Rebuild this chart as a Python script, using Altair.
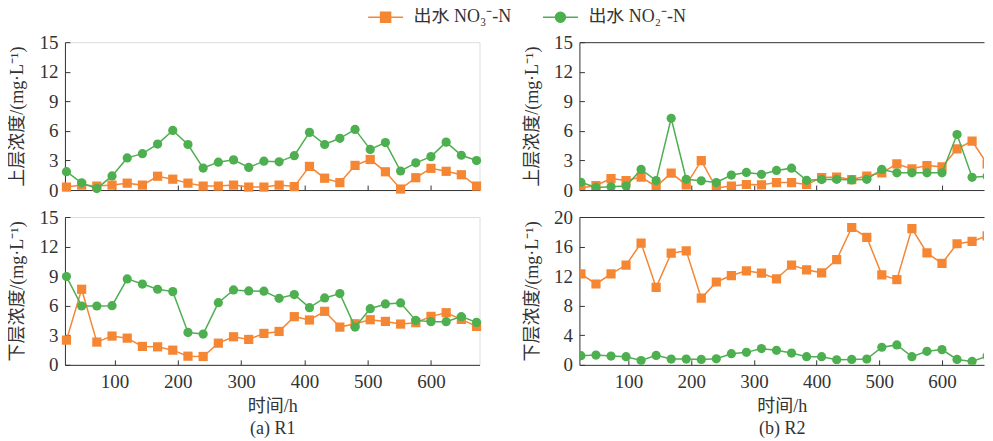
import altair as alt
import pandas as pd

hours = [24 * k for k in range(1, 29)]

# R1 upper layer
r1_up_no3 = [0.3, 0.5, 0.4, 0.5, 0.7, 0.5, 1.4, 1.1, 0.7, 0.4, 0.4, 0.5, 0.3, 0.3,
             0.5, 0.35, 2.4, 1.2, 0.75, 2.5, 3.1, 1.85, 0.1, 1.25, 2.2, 1.9, 1.55, 0.4]
r1_up_no2 = [1.86, 0.73, 0.15, 1.43, 3.26, 3.69, 4.66, 6.05, 4.62, 2.23, 2.83, 3.06, 2.29, 2.93,
             2.86, 3.49, 5.85, 4.62, 5.25, 6.15, 4.12, 4.82, 1.93, 2.76, 3.39, 4.86, 3.53, 2.99]
# R1 lower layer
r1_dn_no3 = [2.51, 7.67, 2.31, 2.92, 2.71, 1.87, 1.83, 1.49, 0.88, 0.85, 2.2, 2.85, 2.58, 3.19,
             3.39, 4.89, 4.55, 5.43, 3.83, 4.17, 4.58, 4.41, 4.14, 4.28, 4.92, 5.29, 4.61, 3.9]
r1_dn_no2 = [8.96, 5.97, 5.97, 6.0, 8.72, 8.2, 7.67, 7.43, 3.29, 3.12, 6.31, 7.6, 7.5, 7.47,
             6.75, 7.13, 5.8, 6.79, 7.23, 3.83, 5.7, 6.18, 6.28, 4.51, 4.38, 4.38, 4.89, 4.31]
# R2 upper layer
r2_up_no3 = [0.2, 0.46, 1.16, 0.96, 1.32, 0.36, 1.72, 0.53, 2.98, 0.2, 0.4, 0.56, 0.53, 0.76,
             0.76, 0.56, 1.26, 1.32, 1.06, 1.42, 1.75, 2.65, 2.15, 2.48, 2.35, 4.17, 4.97, 2.65]
r2_up_no2 = [0.79, 0.26, 0.33, 0.4, 2.09, 0.96, 7.28, 1.09, 0.93, 0.76, 1.52, 1.79, 1.59, 1.99,
             2.22, 0.99, 1.06, 1.09, 1.03, 1.09, 2.09, 1.75, 1.75, 1.75, 1.75, 5.63, 1.29, 1.39]
# R2 lower layer
r2_dn_no3 = [12.31, 10.94, 12.31, 13.5, 16.48, 10.48, 15.1, 15.42, 9.02, 11.21, 12.08, 12.72, 12.4, 11.62,
             13.5, 12.86, 12.45, 14.23, 18.58, 17.25, 12.17, 11.53, 18.44, 15.15, 13.73, 16.38, 16.7, 17.44]
r2_dn_no2 = [1.24, 1.33, 1.19, 1.1, 0.59, 1.28, 0.78, 0.78, 0.73, 0.82, 1.51, 1.69, 2.2, 1.97,
             1.6, 1.1, 1.1, 0.69, 0.73, 0.78, 2.38, 2.7, 1.1, 1.83, 2.06, 0.73, 0.46, 1.19]

LAB3 = "出水 NO₃⁻-N"
LAB2 = "出水 NO₂⁻-N"
x_ticks = [100, 200, 300, 400, 500, 600]

ORANGE = "#F58634"
GREEN = "#4DAF4F"
TXT = "#333333"
FONT = "Liberation Serif, Noto Sans CJK SC"
W, WR, H = 415, 405, 148

SQ_PATH = "M-3.5,0H3.5M-1,-1H1V1H-1Z"
CI_PATH = "M-3.5,0H3.5M1,0A1,1,0,1,1,-1,0A1,1,0,1,1,1,0Z"


def panel(no3, no2, width, xdom, ydom, yvals, ytitle, bottom, caption, right, legend):
    df = pd.DataFrame({"t": hours * 2, "v": no3 + no2, "s": [LAB3] * 28 + [LAB2] * 28})
    base = alt.Chart(df)
    xs = alt.Scale(domain=xdom, nice=False, zero=False)
    ys = alt.Scale(domain=ydom, nice=False, zero=False)
    clip = right

    main_x = alt.Axis(values=x_ticks, labels=bottom, ticks=False, domain=True,
                      domainColor=TXT, domainWidth=1, grid=False,
                      labelFont=FONT, labelFontSize=19, labelColor=TXT, labelPadding=8,
                      title=(["时间/h", caption] if bottom else None),
                      titleFont=FONT, titleFontSize=18, titleFontWeight="normal",
                      titleColor=TXT, titleLineHeight=22, titlePadding=6)
    main_y = alt.Axis(values=yvals, ticks=False, domain=True, domainColor=TXT, domainWidth=1,
                      grid=False, labelFont=FONT, labelFontSize=19, labelColor=TXT,
                      labelPadding=7, title=ytitle, titleFont=FONT, titleFontSize=18,
                      titleFontWeight="normal", titleColor=TXT, titlePadding=12)
    tick_x = alt.Axis(orient="top", offset=-H, values=x_ticks, labels=False, domain=False,
                      ticks=True, tickSize=5, tickColor=TXT, tickWidth=1, grid=False, title=None)
    tick_y = alt.Axis(orient="right", offset=-width, values=yvals, labels=False, domain=False,
                      ticks=True, tickSize=5, tickColor=TXT, tickWidth=1, grid=False, title=None)
    top_x = alt.Axis(orient="top", labels=False, ticks=False, domain=True, domainColor=TXT,
                     domainWidth=1, grid=False, title=None)

    line3 = base.transform_filter(alt.datum.s == LAB3).mark_line(
        color=ORANGE, strokeWidth=1.5, clip=clip).encode(
        x=alt.X("t:Q", scale=xs, axis=main_x), y=alt.Y("v:Q", scale=ys, axis=main_y))
    pts3 = base.transform_filter(alt.datum.s == LAB3).mark_square(
        color=ORANGE, size=85, opacity=1, clip=clip).encode(
        x=alt.X("t:Q", scale=xs, axis=tick_x), y=alt.Y("v:Q", scale=ys, axis=tick_y))
    line2 = base.transform_filter(alt.datum.s == LAB2).mark_line(
        color=GREEN, strokeWidth=1.5, clip=clip).encode(
        x=alt.X("t:Q", scale=xs, axis=(top_x if right else None)),
        y=alt.Y("v:Q", scale=ys, axis=None))
    pts2 = base.transform_filter(alt.datum.s == LAB2).mark_circle(
        color=GREEN, size=85, opacity=1, clip=clip).encode(
        x=alt.X("t:Q", scale=xs, axis=None), y=alt.Y("v:Q", scale=ys, axis=None))
    layers = [line3, pts3, line2, pts2]

    if legend:
        lg = alt.Legend(orient="none", legendX=312, legendY=-34, direction="horizontal",
                        title=None, symbolSize=100, symbolStrokeWidth=1.5, padding=0,
                        labelFont=FONT, labelFontSize=18, labelColor=TXT, labelLimit=400,
                        labelOffset=19, columnPadding=28)
        cs = alt.Scale(domain=[LAB3, LAB2], range=[ORANGE, GREEN])
        dummy = base.transform_filter("false").mark_point(
            filled=True, opacity=1, strokeWidth=1.5).encode(
            x=alt.X("t:Q", scale=xs, axis=None), y=alt.Y("v:Q", scale=ys, axis=None),
            color=alt.Color("s:N", scale=cs, legend=lg),
            stroke=alt.Stroke("s:N", scale=cs, legend=lg),
            shape=alt.Shape("s:N", scale=alt.Scale(domain=[LAB3, LAB2], range=[SQ_PATH, CI_PATH]),
                            legend=lg))
        layers.append(dummy)

    ch = alt.layer(*layers).resolve_axis(x="independent", y="independent").properties(
        width=width, height=H)
    if right:
        ch = ch.properties(view=alt.ViewBackground(stroke="transparent"))
    return ch


up_title = "上层浓度/(mg·L⁻¹)"
dn_title = "下层浓度/(mg·L⁻¹)"
y15 = [0, 3, 6, 9, 12, 15]
y20 = [0, 4, 8, 12, 16, 20]

tl = panel(r1_up_no3, r1_up_no2, W, [21.6, 676.7], [0, 15], y15, up_title, False, "", False, True)
bl = panel(r1_dn_no3, r1_dn_no2, W, [21.6, 676.7], [0, 15], y15, dn_title, True, "(a) R1", False, False)
tr = panel(r2_up_no3, r2_up_no2, WR, [21.6, 667.0], [0, 15], y15, up_title, False, "", True, False)
br = panel(r2_dn_no3, r2_dn_no2, WR, [21.6, 667.0], [0, 20], y20, dn_title, True, "(b) R2", True, False)

chart = alt.concat(tl, tr, bl, br, columns=2,
                   spacing={"row": 27, "column": 100}, bounds="flush").properties(
    padding={"left": 0, "top": 0, "right": 0, "bottom": 0}
).configure_view(stroke=TXT, strokeWidth=1).configure(background="white")

chart.save("out.html", embed_options={"renderer": "svg", "actions": False})
